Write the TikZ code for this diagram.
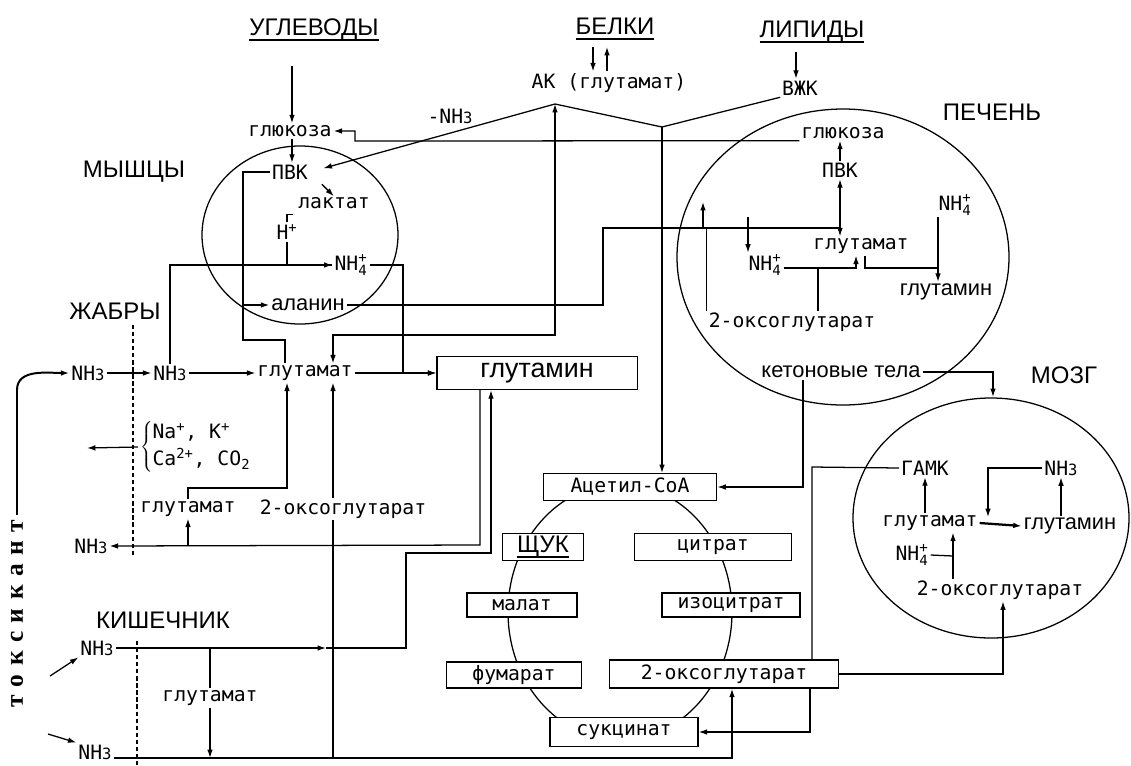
\documentclass[tikz,border=0pt]{standalone}
\usepackage{fontspec}
\setmainfont{Liberation Sans}
\setmonofont{DejaVu Sans Mono}
\newfontfamily\toxfont{Liberation Serif}
\usetikzlibrary{arrows.meta}

\newcommand\headfont{\rmfamily\fontsize{17}{20}\selectfont}
\newcommand\labfont{\ttfamily\fontsize{14}{16}\selectfont}
\newcommand\txtfont{\rmfamily\fontsize{15.5}{18}\selectfont}
\newcommand\underl[1]{\setbox0\hbox{#1}\rlap{\vrule height -2.5pt depth 4.5pt width \wd0}\box0}
\newcommand\nhtri{NH{\fontsize{11}{11}\selectfont 3}}
\newcommand\nhfour{NH$_{\mbox{\fontsize{10}{10}\selectfont 4}}^{\mbox{\fontsize{10}{10}\selectfont +}}$}

\begin{document}
\begin{tikzpicture}[> = {Latex[length = 6pt, width = 4pt]}, x = 0.709pt, y = -0.709pt, line width = 0.9pt,
	head/.style = {font = \headfont, inner sep = 1pt},
	lab/.style = {font = \labfont, inner sep = 1pt},
	txt/.style = {font = \txtfont, inner sep = 1pt},
	box/.style = {draw, fill = white, inner sep = 0pt, font = \labfont},
	wall/.style = {densely dashed, line width = 1.3pt}]

	\useasboundingbox (0, 0) rectangle (1131, 765);

	% Organs and the cycle
	
	\draw (300, 235) ellipse [x radius = 98, y radius = 89];
	\draw (843, 257) ellipse [x radius = 166, y radius = 148];
	\draw (991, 518) ellipse [x radius = 138, y radius = 120];
	\draw (620, 612) ellipse [x radius = 112, y radius = 128];
	
	% Sources
	
	\node (carb) [head, anchor = base] at (314, 35) {\underl{УГЛЕВОДЫ}};
	\node (prot) [head, anchor = base] at (615, 34) {\underl{БЕЛКИ}};
	\node (lip) [head, anchor = base] at (812, 37) {\underl{ЛИПИДЫ}};
	
	% Organ names
	
	\node (musc) [head] at (134, 172) {МЫШЦЫ};
	\node (livr) [head] at (992, 112) {ПЕЧЕНЬ};
	\node (gill) [head] at (115, 311) {ЖАБРЫ};
	\node (brn) [head] at (1064, 375) {МОЗГ};
	\node (gut) [head] at (163, 620) {КИШЕЧНИК};
	\node (tox) [rotate = 90, font = {\toxfont\bfseries\fontsize{18}{20}\selectfont}] at (17, 614)
		{т\hspace{6pt}о\hspace{6pt}к\hspace{6pt}с\hspace{6pt}и\hspace{6pt}к\hspace{6pt}а\hspace{6pt}н\hspace{6pt}т};
	
	% Muscle
	
	\node (ak) [lab] at (609, 83) {АК (глутамат)};
	\node (vzhk) [lab] at (800, 88) {ВЖК};
	\node (nhlab) [lab] at (450, 116) {-\nhtri};
	\node (glc1) [lab] at (290, 131) {глюкоза};
	\node (pvk1) [lab] at (290, 172) {ПВК};
	\node (lac1) [lab] at (334, 203) {лактат};
	\node (hplus) [lab] at (287, 232) {H\textsuperscript{+}};
	\node (nh4m) [lab] at (351, 265) {\nhfour};
	\node (ala) [txt] at (308, 305) {аланин};
	
	% Gills
	
	\node (nh3a) [lab] at (88, 373) {\nhtri};
	\node (nh3b) [lab] at (170, 373) {\nhtri};
	\node (glug) [lab] at (305, 373) {глутамат};
	\node (ions) [lab, anchor = west] at (138, 447)
		{$\left\{\mbox{\def\arraystretch{1.2}\begin{tabular}{@{}l@{}}Na\textsuperscript{+}, K\textsuperscript{+}\\Ca\textsuperscript{2+}, CO\textsubscript{2}\end{tabular}}\right.$};
	\node (glug2) [lab] at (188, 509) {глутамат};
	\node (oxog) [lab] at (343, 509) {2-оксоглутарат};
	\node (nh3c) [lab] at (91, 546) {\nhtri};
	
	% Intestine
	
	\node (nh3d) [lab] at (97, 648) {\nhtri};
	\node (glui) [lab] at (210, 698) {глутамат};
	\node (nh3e) [lab] at (95, 752) {\nhtri};
	
	% Liver
	
	\node (glc2) [lab] at (843, 133) {глюкоза};
	\node (pvk2) [lab] at (840, 170) {ПВК};
	\node (nh4r) [lab] at (955, 205) {\nhfour};
	\node (glul) [lab] at (861, 246) {глутамат};
	\node (nh4lt) [lab] at (765, 265) {\nhfour};
	\node (gln2) [txt] at (946, 292) {глутамин};
	\node (oxol) [lab] at (792, 322) {2-оксоглутарат};
	\node (keto) [txt] at (841, 372) {кетоновые тела};
	
	% Brain
	
	\node (gaba) [lab] at (925, 468) {ГАМК};
	\node (nh3br) [lab] at (1061, 468) {\nhtri};
	\node (glubr) [lab] at (930, 523) {глутамат};
	\node (glnbr) [txt] at (1070, 526) {глутамин};
	\node (nh4br) [lab] at (912, 555) {\nhfour};
	\node (oxobr) [lab] at (1000, 590) {2-оксоглутарат};
	
	% Boxes
	
	\node (glnbox) [box, minimum width = 142pt, minimum height = 23.5pt, font = {\rmfamily\fontsize{19}{22}\selectfont}] at (537, 373) {глутамин};
	\node (acoa) [box, minimum width = 123pt, minimum height = 19pt] at (630, 487) {Ацетил-СоА};
	\node (oaa) [box, minimum width = 57pt, minimum height = 19pt, font = \headfont] at (543, 547) {\underl{ЩУК}};
	\node (cit) [box, minimum width = 111pt, minimum height = 19pt] at (713, 547) {цитрат};
	\node (mal) [box, minimum width = 78pt, minimum height = 17pt] at (522, 605) {малат};
	\node (icit) [box, minimum width = 98pt, minimum height = 17pt] at (731, 605) {изоцитрат};
	\node (fum) [box, minimum width = 96pt, minimum height = 18.5pt] at (514, 675) {фумарат};
	\node (oxo) [box, minimum width = 162pt, minimum height = 20pt] at (724, 674) {2-оксоглутарат};
	\node (succ) [box, minimum width = 105pt, minimum height = 20.5pt] at (624, 732) {сукцинат};
	
	% Entry of substrates
	
	\coordinate (carbout) at (292, 66);
	\coordinate (akdn) at (593, 47);
	\coordinate (akup) at (607, 47);
	\coordinate (lipout) at (796, 52);
	
	\begin{scope}[->]
	
		\draw (carbout) -- (carbout |- glc1.north);
		\draw (carbout |- glc1.south) -- (carbout |- pvk1.north);
		\draw (akdn) -- (akdn |- ak.north);
		\draw (akup |- ak.north) -- (akup);
		\draw (lipout) -- (lipout |- vzhk.north);
	
	\end{scope}
	
	% Amino acids and fatty acids
	
	\coordinate (akj) at (555, 104);
	\coordinate (fork) at (662, 127);
	\coordinate (akgl) at (333, 335);
	\coordinate (glret) at (355, 141);
	
	\draw [->, shorten > = 10pt] (akj) -- (pvk1.east);
	\draw (akj) -- (fork) -- (vzhk.south west);
	\draw [->] (fork) -- (fork |- acoa.north);
	\draw [<->] (akj) |- (akgl) -- (akgl |- glug.north);
	\draw [->] (glc2.south west) -- (glret) |- (glc1.east);
	
	% Inside the muscle
	
	\coordinate (pvkc) at (243, 340);
	\coordinate (pvkd) at (285, 340);
	\coordinate (nhj) at (403, 373);
	
	\draw (pvk1.west) -| (pvkc) -- (pvkd) -- (pvkd |- glug.north);
	\draw (hplus.south) |- (nh4m.west);
	\draw (hplus.north) -- ++ (0, -8) -- ++ (6, 0);
	
	\begin{scope}[->]
	
		\draw (pvkc |- ala.west) -- (ala.west);
		\draw (pvk1.south east) ++ (12, 3) -- ++ (12, 12);
		\draw (nh3b.north) |- (nh4m.west);
		\draw (nh4m.east) -| (nhj) -- (glnbox.west);
		\draw (glug.east) -- (glnbox.west);
	
	\end{scope}
	
	% Alanine to the liver
	
	\coordinate (alc) at (603, 301);
	\coordinate (alaj) at (840, 228);
	\coordinate (flag) at (703, 228);
	\coordinate (nhdn) at (748, 217);
	
	\draw (ala.east) -- (ala.east -| alc) |- (alaj);
	\draw (oxol.north west) -- (oxol.north west |- alaj);
	
	\begin{scope}[->]
	
		\draw (alaj) -- (pvk2.south);
		\draw (alaj) -- (alaj |- glul.north);
		\draw (flag) -- ++ (0, -26);
		\draw (nhdn) -- (nhdn |- nh4lt.north);
	
	\end{scope}
	
	% Inside the liver
	
	\coordinate (nhup) at (856, 268);
	\coordinate (nhc) at (818, 268);
	\coordinate (nhr) at (938, 268);
	
	\draw [->] (pvk2.north) -- (pvk2.north |- glc2.south);
	\draw [->] (nh4lt.east |- nhup) -- (nhup) -- (nhup |- glul.south);
	\draw [line width = 1.8pt] (nhc |- oxol.north) -- (nhc);
	\draw (glul.south) ++ (4, 0) |- (nhr);
	\draw [->] (nhr |- nh4r.south) -- (nhr |- gln2.north);
	
	% Inside the brain
	
	\coordinate (brj) at (988, 517);
	\coordinate (brox) at (953, 556);
	
	\begin{scope}[->]
	
		\draw (glubr.north -| gaba) -- (gaba.south);
		\draw (glnbr.north -| nh3br) -- (nh3br.south);
		\draw (nh3br.west) -| (brj);
		\draw [line width = 1.6pt] (glubr.east) -- (glnbr.west);
		\draw (brox |- oxobr.north) -- (brox |- glubr.south);
	
	\end{scope}
	
	\draw (nh4br.east) -- (brox);
	
	% Gills
	
	\coordinate (wall1) at (133, 325);
	\coordinate (toxup) at (17, 390);
	\coordinate (ionout) at (87, 448);
	\coordinate (g2c) at (287, 488);
	\coordinate (oxc) at (333, 488);
	\coordinate (gnl) at (480, 545);
	
	\draw [wall] (wall1) -- (wall1 |- nh3c.south);
	
	\begin{scope}[->]
	
		\draw [line width = 1.4pt] (tox.east) -- (toxup) to [out = 90, in = 180] (nh3a.west);
		\draw (nh3a) -- (nh3b);
		\draw (nh3b) -- (glug);
		\draw (ions.west) -- (ionout);
		\draw (glug2.north) |- (g2c) -- (g2c |- glug.south);
		\draw (oxc |- oxog.north) -- (oxc |- glug.south);
		\draw (glnbox.south -| gnl) -- (gnl) -- (nh3c.east);
		\draw (gnl -| glug2.south) -- (glug2.south);
	
	\end{scope}
	
	% Intestine
	
	\coordinate (wall2) at (137, 641);
	\coordinate (wall2e) at (137, 765);
	\coordinate (gutm) at (326, 648);
	\coordinate (gut1) at (406, 648);
	\coordinate (gut2) at (491, 553);
	\coordinate (tin1) at (50, 676);
	\coordinate (tin2) at (48, 734);
	\coordinate (botl) at (732, 758);
	
	\draw [wall] (wall2) -- (wall2e);
	\draw (glui.north |- nh3d) -- (glui.north);
	\draw (oxc |- oxog.south) -- (oxc |- botl);
	
	\begin{scope}[->]
	
		\draw (nh3d.east) -- (gutm);
		\draw (gutm) -- (gut1) |- (gut2) -- (gut2 |- glnbox.south);
		\draw (tin1) -- (nh3d.south west);
		\draw (tin2) -- (nh3e.north west);
		\draw (glui.south) -- (glui.south |- botl);
		\draw (nh3e.south east |- botl) -- (botl) -- (botl |- oxo.south);
	
	\end{scope}
	
	% Citric acid cycle links
	
	\coordinate (ketc) at (803, 487);
	\coordinate (brtop) at (993, 397);
	\coordinate (gabc) at (812, 467);
	\coordinate (oxbr) at (1003, 674);
	\coordinate (succc) at (810, 732);
	
	\draw (gaba.west) -- (gabc) -- (gabc |- oxo.north);
	
	\begin{scope}[->]
	
		\draw (ketc |- keto.south) -- (ketc) -- (acoa.east);
		\draw (keto.east) -| (brtop);
		\draw (oxo.east) -- (oxbr) -- (oxbr |- oxobr.south);
		\draw (succc |- oxo.south) -- (succc) -- (succ.east);
	
	\end{scope}

\end{tikzpicture}
\end{document}
